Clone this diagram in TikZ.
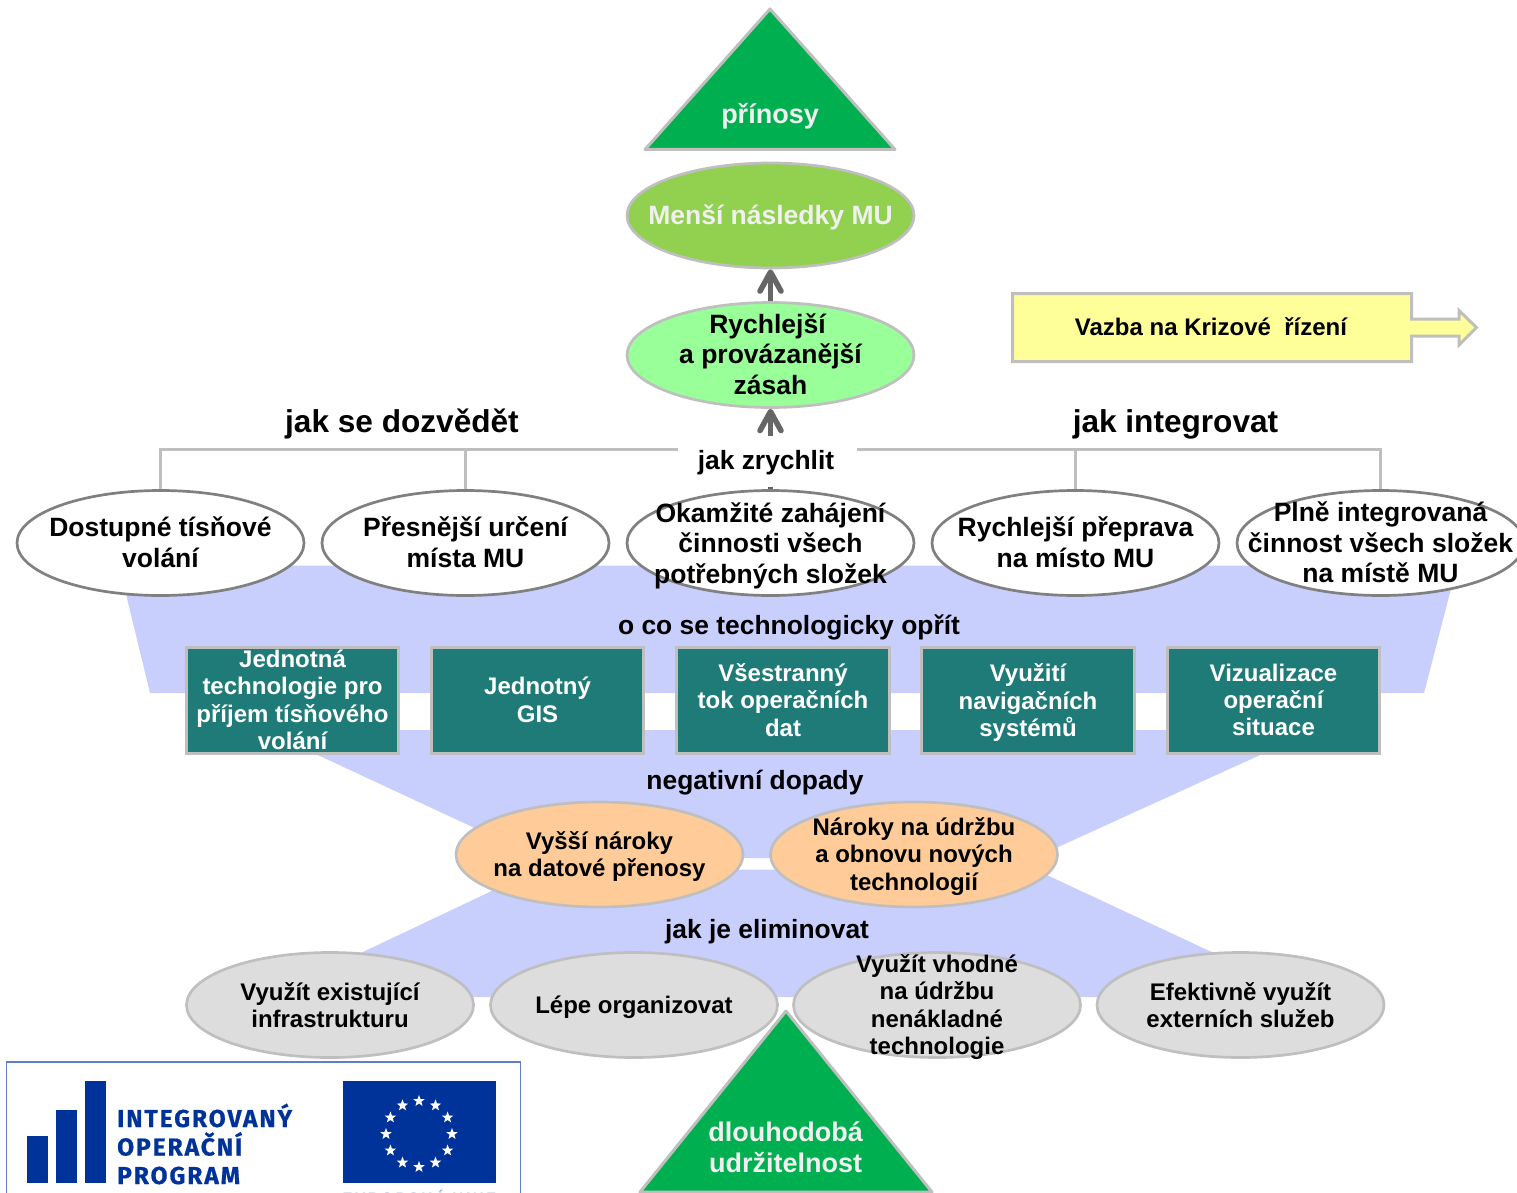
\documentclass[tikz,border=0pt]{standalone}
\usepackage{fontspec}
\setmainfont{Liberation Sans}[BoldFont={Liberation Sans Bold}]
\newfontfamily\logofont[LetterSpace=8,FakeBold=0.6]{Fira Sans Bold}
\usetikzlibrary{shapes.geometric,arrows.meta}
\definecolor{edgegrey}{HTML}{BFBFBF}
\definecolor{darkedge}{HTML}{808080}
\definecolor{band}{HTML}{C9CFFD}
\definecolor{teal}{HTML}{1F7B78}
\definecolor{tgreen}{HTML}{00B050}
\definecolor{softwhite}{HTML}{F0F0F0}
\definecolor{eublue}{HTML}{003399}
\definecolor{peach}{HTML}{FFCC99}
\definecolor{lime}{HTML}{92D050}
\definecolor{mint}{HTML}{99FF99}
\definecolor{paleyellow}{HTML}{FFFF99}
\definecolor{framecol}{HTML}{5C80C4}
\newcommand{\fs}[2]{\fontsize{#1}{#2}\selectfont\bfseries}
\newcommand{\tall}[1]{\rule{0pt}{#1pt}}
\newcommand{\deep}[1]{\rule[-#1pt]{0pt}{#1pt}}
\tikzset{
  oval/.style={ellipse,draw,line width=2.7pt,minimum width=287pt,minimum height=105pt,inner sep=-70pt,align=center},
  whiteoval/.style={oval,fill=white,draw=darkedge,font=\fs{26.5}{30.5}},
  greyoval/.style={oval,fill=black!13.5,draw=edgegrey,font=\fs{24}{27.4}},
  orangeoval/.style={oval,fill=peach,draw=edgegrey,font=\fs{24}{27.4}},
  tealbox/.style={rectangle,draw=edgegrey,fill=teal,line width=3pt,minimum width=212.5pt,minimum height=106pt,inner sep=0pt,align=center,text=white,font=\fs{24}{27.4}},
  caption/.style={font=\fs{26.4}{30},inner sep=0pt},
  heading/.style={font=\fs{31.6}{36},inner sep=0pt},
  treeline/.style={draw=edgegrey,line width=3pt},
  thrust/.style={draw=black!60,line width=5.5pt,-{Straight Barb[length=19pt,width=21pt,round]}},
  bandshape/.style={fill=band,draw=none},
  tri/.style={fill=tgreen,draw=edgegrey,line width=3pt,line join=round},
  trilabel/.style={text=softwhite,align=center,font=\fs{27}{31},inner sep=0pt},
  barshape/.style={fill=eublue,draw=none},
  logotext/.style={text=eublue,anchor=base west,inner sep=0pt,font=\logofont\fontsize{24.5}{29}\selectfont},
  eustar/.style={star,star points=5,star point ratio=2.4,fill=white,draw=none,minimum size=12pt,inner sep=0pt}
}
\begin{document}
\begin{tikzpicture}[x=1pt,y=-1pt]
\useasboundingbox (0,0) rectangle (1517,1193);
\begin{scope}
\clip (0,0) rectangle (1517,1193);
% bands
\fill[bandshape] (119,565.5) -- (1457,565.5) -- (1424,693) -- (150,693) -- cycle;
\fill[bandshape] (264,730) -- (1315,730) -- (1034,858) -- (539,858) -- cycle;
\fill[bandshape] (537,869.5) -- (1035,869.5) -- (1308,997) -- (268,997) -- cycle;
% tree lines
\coordinate (lm) at (678,449);
\coordinate (rm) at (857,449);
\node[whiteoval] (w1) at (160.5,543) {Dostupné tísňové\\volání\deep{2}};
\node[whiteoval] (w2) at (465.5,543) {Přesnější určení\\místa MU\deep{2}};
\node[whiteoval] (w3) at (770.5,543) {\tall{25}Okamžité zahájení\\činnosti všech\\potřebných složek};
\node[whiteoval] (w4) at (1075.5,543) {Rychlejší přeprava\\na místo MU\deep{2}};
\node[whiteoval] (w5) at (1380.5,543) {Plně integrovaná\\činnost všech složek\\na místě MU\deep{1}};
\draw[treeline] (lm) -- (160.5,449) -- (w1.north);
\draw[treeline] (465.5,449) -- (w2.north);
\draw[treeline] (rm) -- (1380.5,449) -- (w5.north);
\draw[treeline] (1075.5,449) -- (w4.north);
% centre
\node[oval,fill=lime,draw=edgegrey,text=softwhite,font=\fs{26.5}{30.5}] (m) at (770.5,215.5) {\tall{23}Menší následky MU};
\node[oval,fill=mint,draw=edgegrey,font=\fs{26.5}{30.5}] (r) at (770.5,355) {Rychlejší\hspace*{6pt}\\a provázanější\\zásah\deep{2}};
\draw[thrust] (r.north) -- (m.south);
\draw[thrust] (w3.north) -- (r.south);
\node[fill=white,minimum width=179pt,minimum height=51pt,inner sep=0pt,caption] (zr) at (767,461) {\phantom{jak zrychlit}};
\node[caption] (zt) at (766,462.5) {jak zrychlit};
\node[heading] (h1) at (402,424) {jak se dozvědět};
\node[heading] (h2) at (1175.5,424) {jak integrovat};
\node[caption] (c1) at (789,627.5) {o co se technologicky opřít};
\node[caption] (c2) at (755,783) {negativní dopady};
\node[caption] (c3) at (767,932) {jak je eliminovat};
% boxes
\node[tealbox] (b1) at (292.5,700) {Jednotná\\technologie pro\\příjem tísňového\\volání};
\node[tealbox] (b2) at (537.5,700) {Jednotný\\GIS};
\node[tealbox] (b3) at (783,700) {Všestranný\\tok operačních\\dat};
\node[tealbox] (b4) at (1028,700) {\tall{23}Využití\\navigačních\\systémů};
\node[tealbox] (b5) at (1273.5,700) {Vizualizace\\operační\\situace};
% orange
\node[orangeoval] (o1) at (599.5,854.5) {\tall{22}Vyšší nároky\\na datové přenosy};
\node[orangeoval] (o2) at (914,854.5) {\tall{22}Nároky na údržbu\\a obnovu nových\\technologií};
% grey
\node[greyoval] (g1) at (330,1005) {Využít existující\\infrastrukturu};
\node[greyoval] (g2) at (634,1005) {\tall{23}Lépe organizovat};
\node[greyoval] (g3) at (937,1005) {\tall{22}Využít vhodné\\na údržbu\\nenákladné\\technologie};
\node[greyoval] (g4) at (1240.5,1005) {Efektivně využít\\externích služeb};
% triangles
\draw[tri] (770,9) -- (895,149.5) -- (645,149.5) -- cycle;
\node[trilabel] (t1) at (770,116) {přínosy};
\draw[tri] (786,1011) -- (932,1192) -- (640,1192) -- cycle;
\node[trilabel] (t2) at (785.5,1147) {dlouhodobá\\udržitelnost};
% note
\draw[fill=paleyellow,draw=edgegrey,line width=3pt]
  (1012.5,293.5) -- (1411.5,293.5) -- (1411.5,319) -- (1459,319) -- (1459,310.5) -- (1476.5,327.5) -- (1459,345) -- (1459,336) -- (1411.5,336) -- (1411.5,361.5) -- (1012.5,361.5) -- cycle;
\node[font=\fs{24}{28},inner sep=0pt] (note) at (1211,327) {Vazba na Krizové\ \ řízení};
% logo
\draw[draw=framecol,line width=1.5pt,fill=white] (6.5,1193) -- (6.5,1062) -- (520.5,1062) -- (520.5,1193);
\fill[barshape] (27,1136) rectangle (48,1183);
\fill[barshape] (56,1110) rectangle (77,1183);
\fill[barshape] (85,1081) rectangle (106,1183);
\node[logotext] (l1) at (117,1127) {INTEGROVANÝ};
\node[logotext] (l2) at (117,1155.5) {OPERAČNÍ};
\node[logotext] (l3) at (117,1184) {PROGRAM};
\fill[barshape] (343,1081) rectangle (496,1183);
\foreach \a in {0,30,...,330}{
  \node[eustar] at ({419+33*cos(\a)},{1134+33*sin(\a)}) {};
}
\node[text=eublue!45,font=\fs{15}{17},inner sep=0pt,anchor=base] (eu) at (419.5,1203) {\addfontfeature{LetterSpace=18}EVROPSKÁ UNIE};
\end{scope}
\end{tikzpicture}
\end{document}
